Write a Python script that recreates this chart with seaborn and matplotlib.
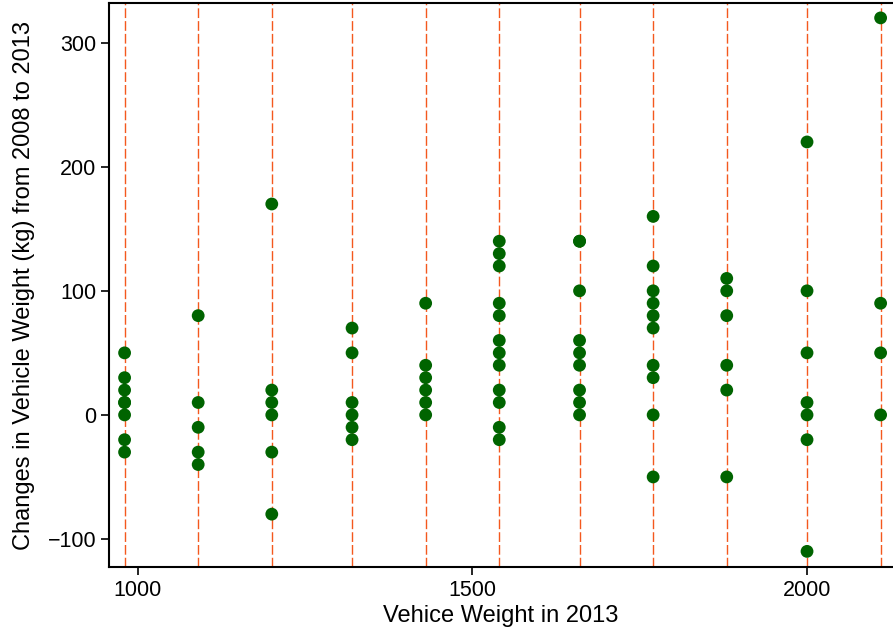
import matplotlib
matplotlib.use("Agg")
import matplotlib.pyplot as plt
import seaborn as sns
import pandas as pd

# Data
weight_2013 = [980, 1090, 1200, 1320, 1430, 1540, 1660, 1770, 1880, 2000, 2110]
changes = [
    [50, 30, 20, 10, 10, 0, -20, -30],
    [80, 10, -10, -30, -40],
    [170, 20, 10, 0, -30, -80],
    [70, 50, 10, 0, -10, -20],
    [90, 40, 30, 20, 10, 0],
    [140, 130, 120, 90, 80, 60, 50, 40, 20, 10, -10, -20],
    [140, 140, 100, 60, 50, 40, 20, 10, 0],
    [160, 120, 100, 90, 80, 70, 40, 30, 0, -50],
    [110, 100, 80, 40, 20, -50],
    [220, 100, 50, 10, 0, -20, -110],
    [320, 90, 50, 0],
]
yticks = [-100, 0, 100, 200, 300]
ytick_labels = ["\u2212100", "0", "100", "200", "300"]
xticks = [1000, 1500, 2000]

rows = []
for w, vals in zip(weight_2013, changes):
    for v in vals:
        rows.append({"weight": w, "change": v})
df = pd.DataFrame(rows)

sns.set_style("ticks")
plt.rcParams["font.family"] = ["Liberation Sans", "DejaVu Sans"]

fig = plt.figure(figsize=(8.93, 6.33), dpi=100)
ax = fig.add_axes([109 / 893, (633 - 567) / 633, (893 - 109) / 893, (567 - 3) / 633])

for w in weight_2013:
    ax.axvline(w, color="#F4581E", lw=1.0, linestyle=(0, (7, 2.2)), zorder=1)

sns.scatterplot(data=df, x="weight", y="change", color="#006400", s=85,
                edgecolor="none", ax=ax, zorder=3)

ax.set_xlim(956.7, 2128.5)
ax.set_ylim(-122.6, 332)
ax.set_xticks(xticks)
ax.set_yticks(yticks)
ax.set_yticklabels(ytick_labels)
ax.set_xlabel("Vehice Weight in 2013", fontsize=17, labelpad=3, color="black")
ax.set_ylabel("Changes in Vehicle Weight (kg) from 2008 to 2013", fontsize=17,
              labelpad=9, color="black")
ax.tick_params(axis="both", labelsize=15.5, length=6, width=1.2, color="black",
               labelcolor="black", direction="out", pad=3)
for side in ["left", "bottom", "top"]:
    ax.spines[side].set_linewidth(1.5)
    ax.spines[side].set_color("black")
ax.spines["right"].set_visible(False)

fig.savefig("out.png", dpi=100)
